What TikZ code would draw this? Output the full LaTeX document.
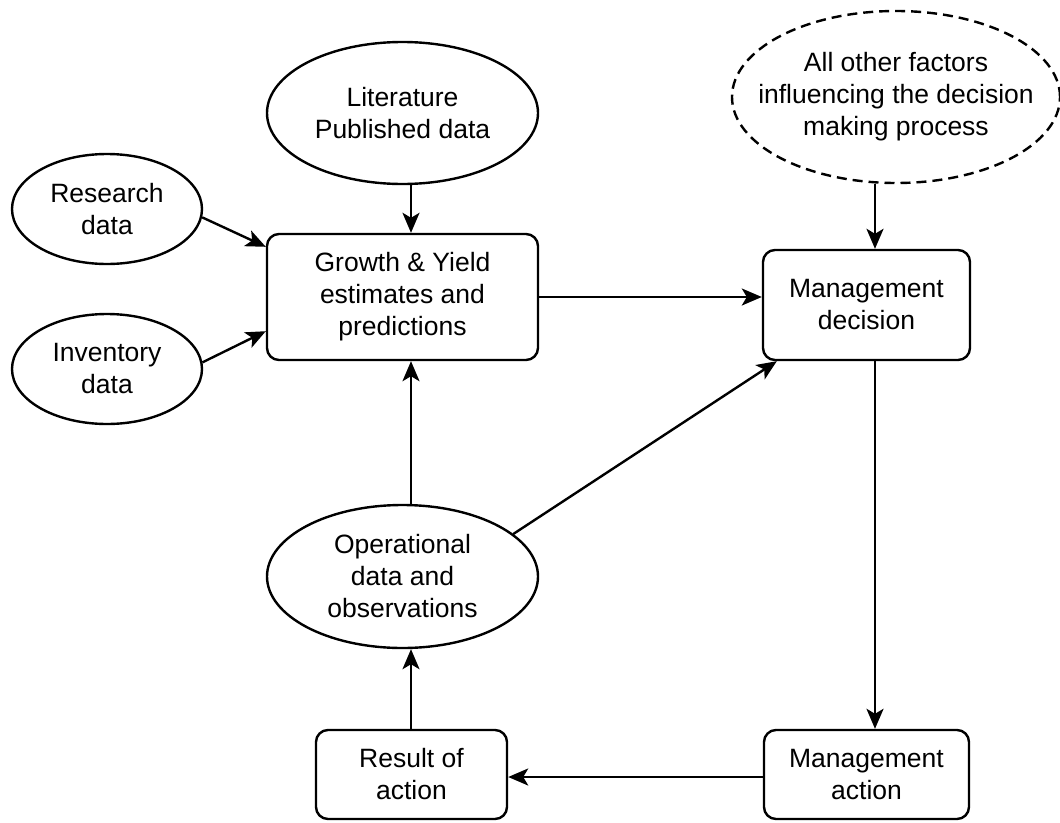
\documentclass[tikz,border=0pt]{standalone}
\usepackage{fontspec}
\setmainfont{Liberation Sans}
\usetikzlibrary{shapes.geometric,arrows.meta}
\begin{document}
\begin{tikzpicture}[x=1pt,y=-1pt,
  every node/.style={font=\fontsize{26.5}{32}\selectfont, align=center, inner sep=0pt},
  ell/.style={ellipse, draw, line width=2.4pt},
  rbox/.style={draw, line width=2.4pt, rounded corners=12pt},
  conn/.style={line width=2.4pt, -{Stealth[length=20pt,width=17pt,inset=5pt]}}
]
\useasboundingbox (0,0) rectangle (1060,822);
% nodes
\node[ell, minimum width=190pt, minimum height=110pt] (res) at (107,209) {Research\\data};
\node[ell, minimum width=190pt, minimum height=110pt] (inv) at (107,369) {Inventory\\data};
\node[ell, minimum width=271pt, minimum height=142pt] (lit) at (402.5,113) {Literature\\Published data};
\node[rbox, minimum width=271pt, minimum height=126pt] (growth) at (402.5,297) {Growth \& Yield\\estimates and\\predictions};
\node[ell, dash pattern=on 10pt off 6pt, inner xsep=-30pt, minimum width=328pt, minimum height=172pt] (oth) at (896,97) {All other factors\\influencing the decision\\making process};
\node[rbox, minimum width=207pt, minimum height=110pt] (dec) at (866.5,305) {Management\\decision};
\node[ell, minimum width=271pt, minimum height=143pt] (op) at (402.5,576.5) {Operational\\data and\\observations};
\node[rbox, minimum width=191pt, minimum height=89pt] (resu) at (411.5,774.5) {Result of\\action};
\node[rbox, minimum width=205pt, minimum height=89pt] (act) at (866.5,774.5) {Management\\action};
\coordinate (colL) at (411,0);
\coordinate (colR) at (875,0);
% connectors
\draw[conn] (res.-5) -- ([yshift=-14pt]growth.north west);
\draw[conn] (inv.4) -- ([yshift=30pt]growth.south west);
\draw[conn] (lit.south -| colL) -- (growth.north -| colL);
\draw[conn] (growth.east) -- (growth.east -| dec.west);
\draw[conn] (oth.south -| colR) -- (dec.north -| colR);
\draw[conn] (dec.south -| colR) -- (act.north -| colR);
\draw[conn] ([yshift=-2.5pt]act.west) -- ([yshift=-2.5pt]resu.east);
\draw[conn] (resu.north -| colL) -- (op.south -| colL);
\draw[conn] (op.north -| colL) -- (growth.south -| colL);
\draw[conn] (op.21) -- ([xshift=15pt]dec.south west);
\end{tikzpicture}
\end{document}
